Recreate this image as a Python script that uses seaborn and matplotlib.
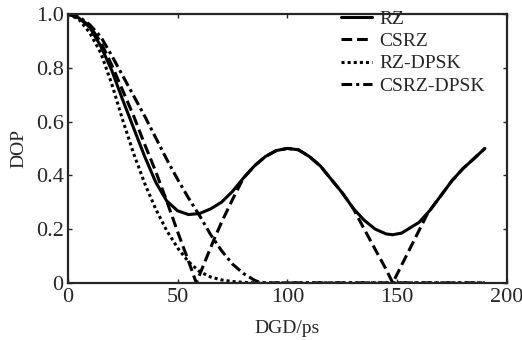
import numpy as np
import pandas as pd
import matplotlib
matplotlib.use('Agg')
import matplotlib.pyplot as plt
import seaborn as sns

# DOP vs DGD
rz_x = [0, 5, 10, 15, 20, 25, 30, 35, 40, 45, 50, 55, 60, 65, 70, 75, 80, 85, 90, 95,
        100, 105, 110, 115, 120, 125, 130, 135, 140, 145, 148, 152, 156, 160, 165,
        170, 175, 180, 185, 190]
rz_y = [1.0, 0.985, 0.95, 0.88, 0.79, 0.68, 0.575, 0.47, 0.375, 0.305, 0.268, 0.254,
        0.258, 0.275, 0.30, 0.34, 0.39, 0.435, 0.47, 0.492,
        0.50, 0.495, 0.47, 0.435, 0.385, 0.335, 0.277, 0.233, 0.20, 0.182, 0.179,
        0.185, 0.205, 0.225, 0.27, 0.325, 0.38, 0.425, 0.462, 0.50]

csrz_x = [0, 5, 10, 15, 20, 25, 30, 35, 40, 45, 50, 55, 58.5, 62, 66.5, 70, 75, 80, 85,
          90, 95, 100, 105, 110, 115, 120, 125, 130, 135, 140, 145, 148, 152, 156, 160,
          164, 170, 175, 180, 185, 190]
csrz_y = [1.0, 0.985, 0.955, 0.895, 0.81, 0.715, 0.62, 0.515, 0.415, 0.305, 0.19, 0.08,
          0.0, 0.07, 0.16, 0.225, 0.31, 0.39, 0.435,
          0.47, 0.492, 0.50, 0.495, 0.47, 0.435, 0.385, 0.335, 0.277, 0.20, 0.125,
          0.05, 0.0, 0.065, 0.13, 0.195, 0.26, 0.325, 0.38, 0.425, 0.462, 0.50]

rzdpsk_x = [0, 5, 10, 15, 20, 25, 30, 35, 40, 45, 50, 55, 60, 65, 70, 75, 80, 85, 90,
            100, 120, 140, 160, 180, 190]
rzdpsk_y = [1.0, 0.98, 0.93, 0.855, 0.74, 0.605, 0.48, 0.37, 0.275, 0.195, 0.13, 0.078,
            0.042, 0.022, 0.011, 0.005, 0.002, 0.0, 0.0,
            0.0, 0.0, 0.0, 0.0, 0.0, 0.0]

csdpsk_x = [0, 5, 10, 15, 20, 25, 30, 35, 40, 45, 50, 55, 60, 65, 70, 75, 80, 85, 88,
            100, 120, 140, 160, 180, 190]
csdpsk_y = [1.0, 0.99, 0.96, 0.915, 0.845, 0.77, 0.695, 0.62, 0.54, 0.46, 0.385, 0.315,
            0.25, 0.18, 0.12, 0.07, 0.035, 0.01, 0.0,
            0.0, 0.0, 0.0, 0.0, 0.0, 0.0]

labels = ['RZ', 'CSRZ', 'RZ-DPSK', 'CSRZ-DPSK']
xticks = [0, 50, 100, 150, 200]
yticks = [0, 0.2, 0.4, 0.6, 0.8, 1.0]
ytick_labels = ['0', '0.2', '0.4', '0.6', '0.8', '1.0']

sns.set_style('ticks')
plt.rcParams['font.family'] = ['Liberation Serif', 'DejaVu Serif']
plt.rcParams['xtick.direction'] = 'in'
plt.rcParams['ytick.direction'] = 'in'

fig = plt.figure(figsize=(5.22, 3.4), dpi=100)
ax = fig.add_axes([0.130, 0.168, 0.841, 0.791])

series = [(rz_x, rz_y, '-'), (csrz_x, csrz_y, (0, (3.5, 1.6))),
          (rzdpsk_x, rzdpsk_y, (0, (1.0, 1.0))), (csdpsk_x, csdpsk_y, (0, (3.5, 1.3, 1.0, 1.3)))]
for (xs, ys, ls), lab in zip(series, labels):
    sns.lineplot(x=xs, y=ys, ax=ax, color='k', linestyle=ls, linewidth=2.2, label=lab)

ax.set_xlim(0, 200)
ax.set_ylim(0, 1.0)
ax.set_xticks(xticks)
ax.set_yticks(yticks)
ax.set_yticklabels(ytick_labels)
ax.tick_params(labelsize=16, length=3, width=1, top=True, right=True)
ax.tick_params(axis='x', pad=4)
ax.tick_params(axis='y', pad=3)
for sp in ax.spines.values():
    sp.set_linewidth(1.6)
ax.set_xlabel('DGD/ps', fontsize=14, labelpad=9)
ax.set_ylabel('DOP', fontsize=14, labelpad=6)

ax.legend(loc='upper right', bbox_to_anchor=(0.99, 1.08), frameon=False, fontsize=14,
          handlelength=1.6, handletextpad=0.4, labelspacing=0.25)

fig.savefig('out.png', dpi=100)
